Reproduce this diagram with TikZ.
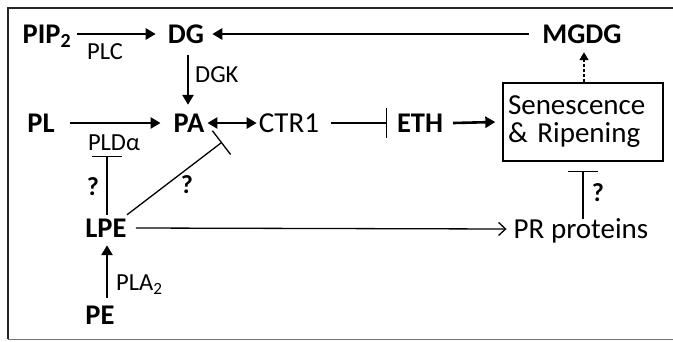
\documentclass[tikz,border=0pt]{standalone}
\usepackage{fontspec}
\setmainfont{Carlito}
\usetikzlibrary{arrows.meta}
\begin{document}
\begin{tikzpicture}[x=1pt,y=-1pt,
  big/.style={font=\fontsize{28.5}{29}\selectfont\bfseries, inner sep=0pt, text height=18pt, text depth=0pt},
  reg/.style={font=\fontsize{29}{29}\selectfont, inner sep=0pt, text height=18pt, text depth=0pt},
  lab/.style={font=\fontsize{24.5}{25}\selectfont, inner sep=0pt, text height=15pt, text depth=0pt},
  qm/.style={font=\fontsize{26}{26}\selectfont\bfseries, inner sep=0pt, text height=16.5pt, text depth=0pt},
  thick arrow/.style={line width=2.6pt, -{Triangle[length=10pt,width=11pt]}},
  dbl arrow/.style={line width=2.6pt, {Triangle[length=10pt,width=11pt]}-{Triangle[length=10pt,width=11pt]}},
  tee/.style={line width=1.3pt, -{Bar[width=30pt,line width=1.3pt]}},
  open arrow/.style={line width=1.3pt, -{Straight Barb[length=7pt,width=13pt,line width=1.3pt]}},
  dash arrow/.style={line width=1.4pt, dash pattern=on 3pt off 2pt, -{Triangle[length=8pt,width=9pt]}},
]
\useasboundingbox (0,0) rectangle (673,341);
% frame
\draw[line width=2.6pt, color=black!85] (673,8) -- (8,8) -- (8,339);
\draw[line width=1.5pt, color=black!55] (8,339.5) -- (673,339.5);

% nodes
\node[big] (pip) at (47,34) {PIP\textsubscript{2}};
\node[big] (dg) at (186,34) {DG};
\node[big] (mgdg) at (582,34) {MGDG};
\node[big] (pl) at (41,123) {PL};
\node[big] (pa) at (189,123) {PA};
\node[reg] (ctr) at (289,123) {CTR1};
\node[big] (eth) at (420,123) {ETH};
\node[draw, line width=1.3pt, minimum width=160pt, minimum height=78pt, inner sep=5pt,
      text width=150pt, align=left, font=\fontsize{29}{28}\selectfont] (box) at (583,122)
      {Senescence\\\& Ripening};
\node[big] (lpe) at (106,228) {LPE};
\node[reg] (pr) at (581,229) {PR proteins};
\node[big] (pe) at (100,315) {PE};

% labels
\node[lab] (plc) at (105,52) {PLC};
\node[lab, anchor=west] (dgk) at (195,75) {DGK};
\node[lab] (pld) at (114,143) {PLDα};
\node[lab, anchor=west] (pla) at (116,283) {PLA\textsubscript{2}};
\node[qm] (q1) at (93,187) {?};
\node[qm] (q2) at (187,185) {?};
\node[qm] (q3) at (598,193) {?};

% connectors
\draw[thick arrow] ([xshift=6pt]pip.east) -- ([xshift=-12pt]dg.west);
\draw[thick arrow] ([xshift=2pt,yshift=-12pt]dg.south) -- ([xshift=-1pt,yshift=9pt]pa.north);
\draw[thick arrow] ([xshift=15pt]pl.east) -- ([xshift=-13pt]pa.west);
\draw[dbl arrow] ([xshift=3pt]pa.east) -- ([xshift=-2pt]ctr.west);
\draw[tee] ([xshift=12pt]ctr.east) -- ([xshift=-10pt]eth.west);
\draw[thick arrow] ([xshift=10pt]eth.east) -- ([xshift=-7pt]box.west);
\draw[thick arrow] ([xshift=-13pt]mgdg.west) -- ([xshift=8pt]dg.east);
\draw[dash arrow] ([xshift=1pt]box.north) -- ([xshift=2pt,yshift=-9pt]mgdg.south);
\draw[tee] ([xshift=1pt,yshift=4pt]lpe.north) -- ([xshift=-7pt,yshift=-5pt]pld.south);
\draw[tee] ([xshift=21pt,yshift=4pt]lpe.north) -- ([xshift=33pt,yshift=-10pt]pa.south);
\draw[open arrow] ([xshift=9pt]lpe.east) -- ([xshift=-7pt]pr.west);
\draw[tee] ([xshift=2pt,yshift=1pt]pr.north) -- ([xshift=0pt,yshift=-9pt]box.south);
\draw[thick arrow] ([xshift=7pt,yshift=8pt]pe.north) -- ([xshift=1pt,yshift=-8pt]lpe.south);
\end{tikzpicture}
\end{document}
